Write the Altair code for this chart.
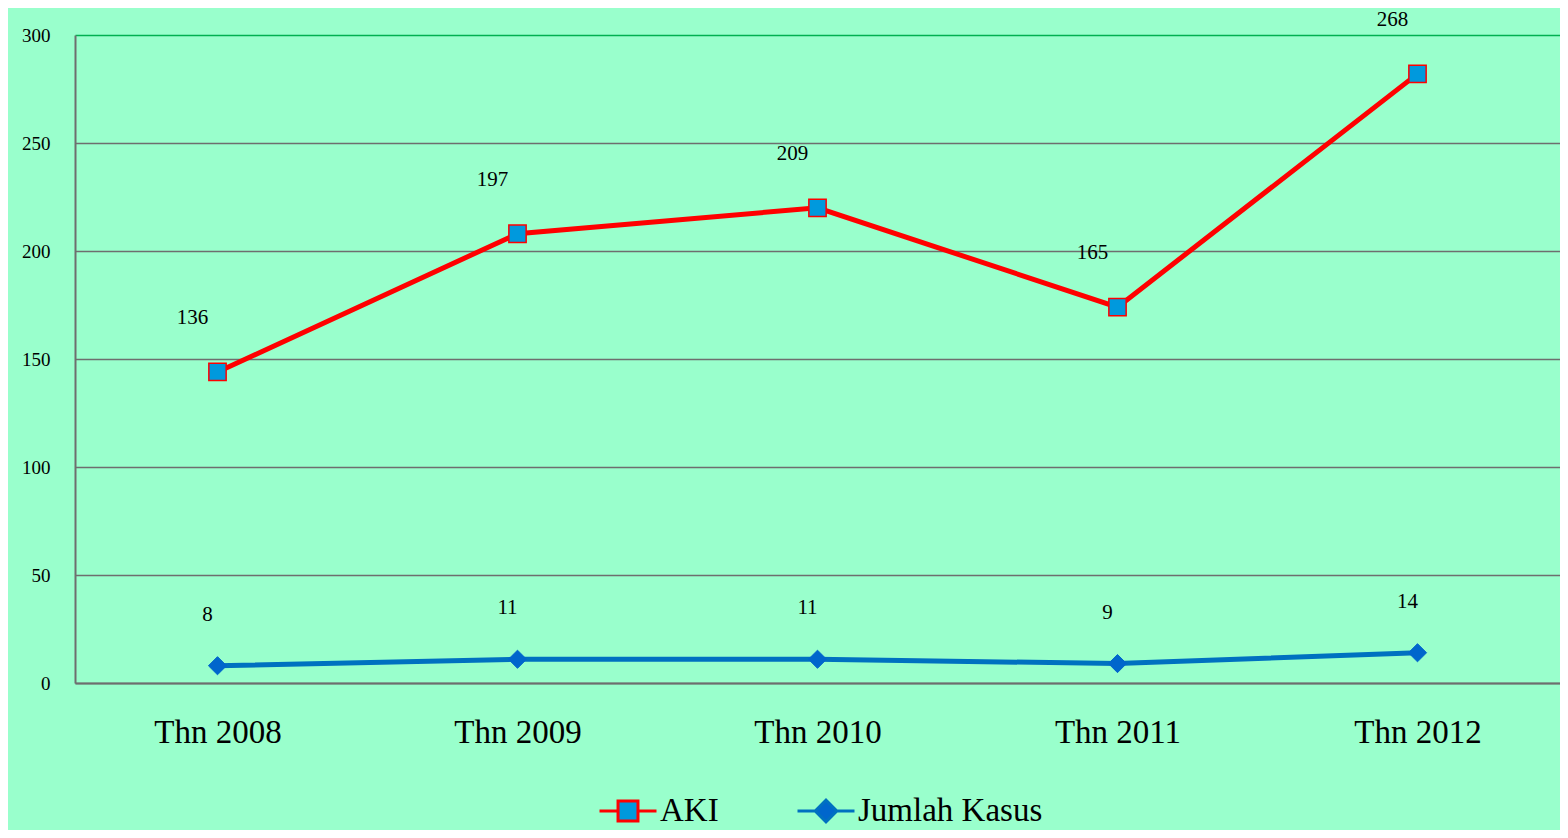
import altair as alt
import pandas as pd

years = ["Thn 2008", "Thn 2009", "Thn 2010", "Thn 2011", "Thn 2012"]
aki = [136, 197, 209, 165, 268]
kasus = [8, 11, 11, 9, 14]
series_names = ["AKI", "Jumlah Kasus"]
y_ticks = [0, 50, 100, 150, 200, 250, 300]

df = pd.DataFrame({"year": years, "aki": aki, "kasus": kasus})
# Excel "stacked line": AKI is drawn on top of Jumlah Kasus
df["aki_stacked"] = df["aki"] + df["kasus"]
legend_df = pd.DataFrame({"series": series_names})

FONT = "Liberation Serif"
BG = "#99FFCC"
GRID = "#6E6E6E"

x_enc = alt.X(
    "year:N", sort=years,
    scale=alt.Scale(type="point", padding=0.475),
    axis=alt.Axis(title=None, labelFontSize=33, labelFont=FONT, labelColor="black",
                  labelPadding=33, domainColor=GRID, domainWidth=2, ticks=False,
                  labelAngle=0, grid=False),
)

def y_enc(field):
    return alt.Y(
        field, type="quantitative",
        scale=alt.Scale(domain=[0, 300], nice=False),
        axis=alt.Axis(values=y_ticks, title=None, labelFontSize=19, labelFont=FONT,
                      labelColor="black", labelPadding=25, ticks=False,
                      domainColor=GRID, domainWidth=2,
                      gridColor={"condition": {"test": "datum.value == 300", "value": "#00B050"},
                                 "value": GRID},
                      gridWidth=1.6, gridOpacity=1),
    )

base = alt.Chart(df)

aki_line = base.mark_line(color="#FF0000", strokeWidth=5).encode(x=x_enc, y=y_enc("aki_stacked"))
aki_pts = base.mark_point(shape="square", filled=True, fill="#0099DD", stroke="#FF0000",
                          strokeWidth=1.5, size=300, opacity=1).encode(x=x_enc, y=y_enc("aki_stacked"))
aki_txt = base.mark_text(dx=-25, dy=-54, fontSize=21, font=FONT, color="black").encode(
    x=x_enc, y=y_enc("aki_stacked"), text="aki:Q")

kas_line = base.mark_line(color="#0070C0", strokeWidth=5).encode(x=x_enc, y=y_enc("kasus"))
kas_pts = base.mark_point(shape="diamond", filled=True, fill="#0066CC", stroke="#0066CC",
                          strokeWidth=1, size=330, opacity=1).encode(x=x_enc, y=y_enc("kasus"))
kas_txt = base.mark_text(dx=-10, dy=-51, fontSize=21, font=FONT, color="black").encode(
    x=x_enc, y=y_enc("kasus"), text="kasus:Q")

sym_aki = "M-1,0H-0.35M-0.35,-0.35H0.35V0.35H-0.35ZM0.35,0H1"
sym_kas = "M-1,0H-0.38M-0.38,0L0,-0.38L0.38,0L0,0.38ZM0.38,0H1"

leg = alt.Legend(title=None, orient="none", legendX=523, legendY=746, direction="horizontal",
                 labelFontSize=33, labelFont=FONT, labelColor="black", labelOffset=2,
                 labelLimit=500, columnPadding=72, symbolSize=3249, symbolStrokeWidth=3,
                 padding=0)

legend_layer = alt.Chart(legend_df).transform_filter("false").mark_point(
    size=3249, strokeWidth=3, opacity=1, filled=False).encode(
    shape=alt.Shape("series:N", scale=alt.Scale(domain=series_names, range=[sym_aki, sym_kas]), legend=leg),
    fill=alt.Fill("series:N", scale=alt.Scale(domain=series_names, range=["#0099DD", "#0066CC"]), legend=leg),
    stroke=alt.Stroke("series:N", scale=alt.Scale(domain=series_names, range=["#FF0000", "#0070C0"]), legend=leg),
)

chart = alt.layer(kas_line, kas_pts, kas_txt, aki_line, aki_pts, aki_txt, legend_layer).properties(
    width=1485, height=648,
    background=BG,
    padding={"left": 67, "top": 27, "right": 0, "bottom": 147},
    autosize=alt.AutoSizeParams(type="none"),
).configure_view(stroke=None, fill=BG)

chart.save("out.html", embed_options={"renderer": "svg", "actions": False})
